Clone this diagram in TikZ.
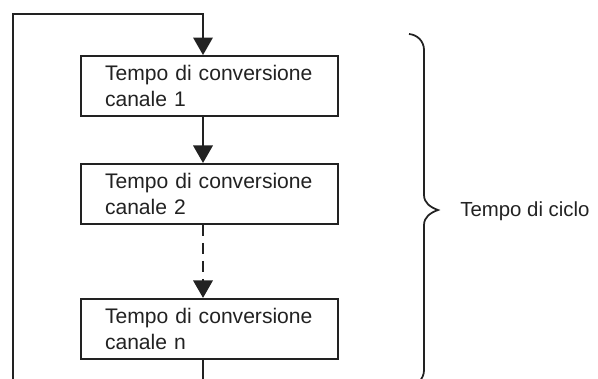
\documentclass[tikz,border=0pt]{standalone}
\usepackage{fontspec}
\setmainfont{Liberation Sans}
\usepackage{tikz}
\usetikzlibrary{arrows.meta,calc,positioning}
\definecolor{ink}{HTML}{222222}
\tikzset{
  every node/.style={font=\fontsize{11.6}{14.2}\selectfont, text=ink},
  flow/.style={-{Triangle[length=3.5mm,width=3.9mm]}, draw=ink,
    line width=1.1pt},
  dashflow/.style={flow, dash pattern=on 2.2mm off 1.4mm},
  plainflow/.style={draw=ink, line width=1.1pt},
  stage/.style={rectangle, draw=ink, line width=1.1pt, minimum width=51.4mm,
    minimum height=12mm, text width=41.8mm, inner xsep=4.8mm, inner ysep=0pt,
    align=left, font=\fontsize{12}{14.4}\selectfont},
  bracestroke/.style={draw=ink, line width=1pt},
  cyclelabel/.style={inner sep=0pt, anchor=west}
}

\begin{document}
\begin{tikzpicture}[x=1cm,y=1cm]
  \useasboundingbox (0,0) rectangle (11.96,7.56);
  \clip (0,0) rectangle (11.96,7.56);

  % Conversion stages, one per channel.
  \node[stage] (ch1) at (4.19,5.84) {Tempo di conversione\\canale 1};
  \node[stage, below=9.2mm of ch1] (ch2) {Tempo di conversione\\canale 2};
  \node[stage, below=14.6mm of ch2] (chn) {Tempo di conversione\\canale n};

  % Flow between stages, slightly left of the box centres.
  \draw[flow] ([xshift=-1.3mm]ch1.south) -- ([xshift=-1.3mm]ch2.north);
  \draw[dashflow] ([xshift=-1.3mm]ch2.south) -- ([xshift=-1.3mm]chn.north);

  % Return loop back to the first channel.
  \coordinate (loop-left) at (0.26,-0.1);
  \coordinate (loop-top) at (4.06,7.28);
  \coordinate (loop-exit) at (4.06,-0.1);
  \draw[flow] (loop-left) |- (loop-top) -- ([xshift=-1.3mm]ch1.north);
  \draw[plainflow] ([xshift=-1.3mm]chn.south) -- (loop-exit);

  % Curly brace spanning the whole cycle.
  \coordinate (brace-top) at (8.18,6.88);
  \coordinate (brace-tip) at (8.76,3.36);
  \coordinate (brace-bottom) at (8.18,-0.16);
  \draw[bracestroke] (brace-top) to[out=-5,in=90] (8.48,6.56)
    -- (8.48,3.66) to[out=-90,in=160] (brace-tip)
    to[out=200,in=90] (8.48,3.06) -- (8.48,0.16)
    to[out=-90,in=5] (brace-bottom);
  \node[cyclelabel] (cycle) at (9.20,3.33) {Tempo di ciclo};
\end{tikzpicture}
\end{document}
